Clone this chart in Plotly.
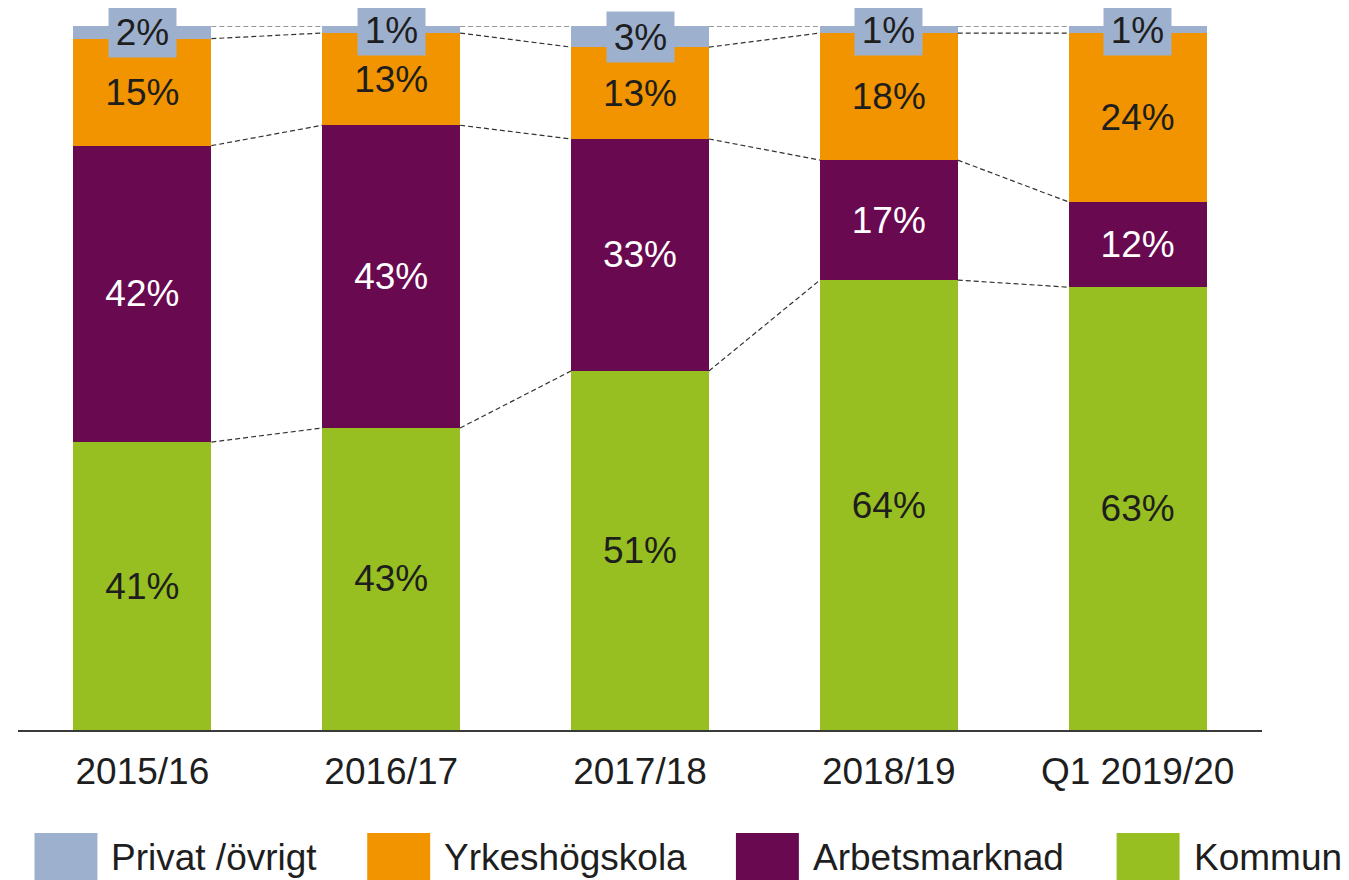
import plotly.graph_objects as go

categories = ["2015/16", "2016/17", "2017/18", "2018/19", "Q1 2019/20"]
series_names = ["Kommun", "Arbetsmarknad", "Yrkeshögskola", "Privat /övrigt"]
kommun = [40.9, 42.9, 51.0, 63.9, 62.9]
arbetsmarknad = [42.1, 43.0, 32.95, 17.05, 12.1]
yrkeshogskola = [15.2, 13.1, 13.05, 18.05, 24.0]
privat = [1.8, 1.0, 3.0, 1.0, 1.0]

colors = {"Kommun": "#97BF21", "Arbetsmarknad": "#690A51",
          "Yrkeshögskola": "#F29400", "Privat /övrigt": "#9DB1CF"}
text_colors = {"Kommun": "#1e1e1e", "Arbetsmarknad": "#ffffff",
               "Yrkeshögskola": "#1e1e1e", "Privat /övrigt": "#1e1e1e"}
values = {"Kommun": kommun, "Arbetsmarknad": arbetsmarknad,
          "Yrkeshögskola": yrkeshogskola, "Privat /övrigt": privat}

FONT = "Liberation Sans, Arial, sans-serif"
FS = 37
OFF = 8  # page body margin
W, H = 1349 - OFF, 880 - OFF
L, R, T, B = 17.5 - OFF, 86.5, 26 - OFF, 150
BARW = 0.554
xs = list(range(len(categories)))

fig = go.Figure()
for name in series_names:
    show_text = name != "Privat /övrigt"
    fig.add_trace(go.Bar(
        x=xs, y=values[name], name=name, width=BARW,
        marker=dict(color=colors[name], line=dict(width=0)),
        text=[f"{round(v)}%" for v in values[name]] if show_text else None,
        textposition="inside" if show_text else "none",
        insidetextanchor="middle",
        textangle=0,
        textfont=dict(family=FONT, size=FS, color=text_colors[name]),
        showlegend=False,
    ))

# series (connector) lines
cum = [0.0] * len(categories)
for name in series_names:
    cum = [c + v for c, v in zip(cum, values[name])]
    lx, ly = [], []
    for i in range(len(categories) - 1):
        lx += [i + BARW / 2, i + 1 - BARW / 2, None]
        ly += [cum[i], cum[i + 1], None]
    fig.add_trace(go.Scatter(x=lx, y=ly, mode="lines", showlegend=False,
                             cliponaxis=False,
                             line=dict(color="#333333", width=1.2, dash="5px,3px"),
                             hoverinfo="skip"))

# labels for the thin Privat segment, with boxes
base = [k + a + y for k, a, y in zip(kommun, arbetsmarknad, yrkeshogskola)]
annotations = []
for i, v in enumerate(privat):
    annotations.append(dict(
        x=i, y=base[i] + v / 2, xref="x", yref="y", text=f"{round(v)}%",
        showarrow=False, bgcolor=colors["Privat /övrigt"], width=67, height=50,
        font=dict(family=FONT, size=FS, color="#1e1e1e"),
        xanchor="center", yanchor="middle", borderpad=0))

# custom legend (positions in page pixels, converted to paper coords)
pw, ph = W - L - R, H - T - B
def px_x(p):
    return (p - OFF - L) / pw
def px_y(p):
    return (H - B - (p - OFF)) / ph

legend_sq = [34, 367, 736, 1117]
legend_order = ["Privat /övrigt", "Yrkeshögskola", "Arbetsmarknad", "Kommun"]
shapes = []
for sx, name in zip(legend_sq, legend_order):
    shapes.append(dict(type="rect", xref="paper", yref="paper",
                       x0=px_x(sx), x1=px_x(sx + 63), y0=px_y(833), y1=px_y(896),
                       fillcolor=colors[name], line=dict(width=0)))
    annotations.append(dict(x=px_x(sx + 75), y=px_y(857), xref="paper", yref="paper",
                            text=name, showarrow=False, xanchor="left", yanchor="middle",
                            font=dict(family=FONT, size=FS, color="#1e1e1e")))

fig.update_layout(
    width=W, height=H, barmode="stack",
    margin=dict(l=L, r=R, t=T, b=B, pad=0),
    paper_bgcolor="white", plot_bgcolor="white",
    font=dict(family=FONT, size=FS, color="#1e1e1e"),
    xaxis=dict(range=[-0.5, len(categories) - 0.5], tickvals=xs, ticktext=categories,
               showgrid=False, zeroline=False, showline=True, linecolor="#3a3a3a",
               linewidth=2, ticks="", ticklabelstandoff=8,
               tickfont=dict(family=FONT, size=FS, color="#1e1e1e")),
    yaxis=dict(range=[0, 100], visible=False, showgrid=False, zeroline=False),
    annotations=annotations, shapes=shapes,
    uniformtext=dict(mode=False),
)
fig.write_html("out.html")
